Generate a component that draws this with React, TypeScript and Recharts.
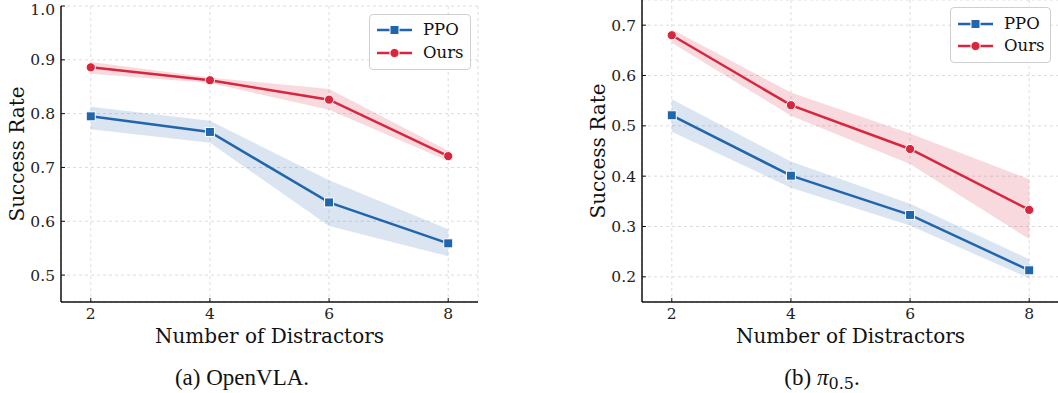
import React from 'react';
import { ComposedChart, Line, Area, XAxis, YAxis, CartesianGrid, Legend } from 'recharts';

// ---------- data ----------
const distractors = [2, 4, 6, 8];
const xTicks = [2, 4, 6, 8];

// (a) OpenVLA
const openvlaPpoMean = [0.795, 0.766, 0.635, 0.559];
const openvlaPpoLow = [0.771, 0.746, 0.591, 0.535];
const openvlaPpoHigh = [0.813, 0.787, 0.676, 0.585];
const openvlaOursMean = [0.886, 0.862, 0.826, 0.721];
const openvlaOursLow = [0.874, 0.857, 0.807, 0.712];
const openvlaOursHigh = [0.896, 0.867, 0.846, 0.731];
const openvlaYTicks = [0.5, 0.6, 0.7, 0.8, 0.9, 1.0];

// (b) pi_0.5
const pi05PpoMean = [0.521, 0.401, 0.323, 0.213];
const pi05PpoLow = [0.488, 0.377, 0.302, 0.197];
const pi05PpoHigh = [0.553, 0.429, 0.345, 0.235];
const pi05OursMean = [0.680, 0.541, 0.454, 0.333];
const pi05OursLow = [0.665, 0.520, 0.424, 0.275];
const pi05OursHigh = [0.692, 0.566, 0.485, 0.394];
const pi05YTicks = [0.2, 0.3, 0.4, 0.5, 0.6, 0.7];

const seriesNames = ['PPO', 'Ours'];
const xLabel = 'Number of Distractors';
const yLabel = 'Success Rate';

// ---------- style ----------
const BLUE = '#2166ac';
const RED = '#d7263d';
const SERIF = '"DejaVu Serif", serif';
const TIMES = '"Liberation Serif", "Times New Roman", serif';

function buildRows(pm: number[], pl: number[], ph: number[], om: number[], ol: number[], oh: number[]) {
  return distractors.map((x, i) => ({
    x,
    ppo: pm[i],
    ppoBand: [pl[i], ph[i]],
    ours: om[i],
    oursBand: [ol[i], oh[i]],
  }));
}

const openvlaRows = buildRows(openvlaPpoMean, openvlaPpoLow, openvlaPpoHigh, openvlaOursMean, openvlaOursLow, openvlaOursHigh);
const pi05Rows = buildRows(pi05PpoMean, pi05PpoLow, pi05PpoHigh, pi05OursMean, pi05OursLow, pi05OursHigh);

const SquareDot = (props: any) => {
  const { cx, cy } = props;
  if (cx == null || cy == null) return null;
  return <rect x={cx - 4.5} y={cy - 4.5} width={9} height={9} fill={BLUE} stroke="#fff" strokeWidth={1} />;
};
const CircleDot = (props: any) => {
  const { cx, cy } = props;
  if (cx == null || cy == null) return null;
  return <circle cx={cx} cy={cy} r={4.6} fill={RED} stroke="#fff" strokeWidth={1} />;
};

const XLabelEl = (props: any) => {
  const vb = props.viewBox || { x: 0, y: 0, width: 0, height: 0 };
  return (
    <text x={vb.x + vb.width / 2} y={vb.y + 41} textAnchor="middle" fontFamily={SERIF} fontSize={20} fill="#111">
      {xLabel}
    </text>
  );
};
const YLabelEl = (props: any) => {
  const vb = props.viewBox || { x: 0, y: 0, width: 0, height: 0 };
  const bx = vb.x + vb.width - 37.5;
  const cy = vb.y + vb.height / 2;
  return (
    <text x={bx} y={cy} transform={`rotate(-90, ${bx}, ${cy})`} textAnchor="middle" fontFamily={SERIF} fontSize={20} fill="#111">
      {yLabel}
    </text>
  );
};

const LegendBox = (props: any) => {
  const rowTops = props.rowTops as number[];
  const items = [
    { name: seriesNames[0], color: BLUE, square: true },
    { name: seriesNames[1], color: RED, square: false },
  ];
  return (
    <div
      style={{
        position: 'relative',
        width: props.w,
        height: props.h,
        boxSizing: 'border-box',
        border: '1px solid #cfcfcf',
        borderRadius: 4,
        background: 'rgba(255,255,255,0.85)',
      }}
    >
      {items.map((it, i) => (
        <div key={it.name} style={{ position: 'absolute', left: 0, top: rowTops[i] - 10, height: 20, width: props.w }}>
          <svg width={46} height={20} style={{ position: 'absolute', left: 0, top: 0 }}>
            <line x1={props.lx0} x2={props.lx1} y1={10} y2={10} stroke={it.color} strokeWidth={2.4} />
            {it.square ? (
              <rect x={(props.lx0 + props.lx1) / 2 - 4.5} y={5.5} width={9} height={9} fill={it.color} stroke="#fff" strokeWidth={1} />
            ) : (
              <circle cx={(props.lx0 + props.lx1) / 2} cy={10} r={4.6} fill={it.color} stroke="#fff" strokeWidth={1} />
            )}
          </svg>
          <span
            style={{
              position: 'absolute',
              left: 53,
              top: 0,
              lineHeight: '20px',
              fontFamily: SERIF,
              fontSize: 16.5,
              color: '#111',
              whiteSpace: 'nowrap',
            }}
          >
            {it.name}
          </span>
        </div>
      ))}
    </div>
  );
};

type PanelProps = {
  rows: any[];
  yDomain: [number, number];
  yTicks: number[];
  width: number;
  yAxisWidth: number;
  marginTop: number;
  marginRight: number;
  legendLeft: number;
  legendTop: number;
  legendW: number;
  legendH: number;
  rowTops: number[];
  lx0: number;
  lx1: number;
};

function Panel(p: PanelProps) {
  const height = 393;
  const xAxisHeight = 60;
  const plotBottom = 302;
  return (
    <ComposedChart
      width={p.width}
      height={height}
      data={p.rows}
      margin={{ top: p.marginTop, right: p.marginRight, bottom: height - plotBottom - xAxisHeight, left: 0 }}
    >
      <CartesianGrid stroke="#d4d4d4" strokeDasharray="3 3" strokeWidth={0.8} />
      <XAxis
        type="number"
        dataKey="x"
        domain={[1.5, 8.5]}
        ticks={xTicks}
        allowDataOverflow
        height={xAxisHeight}
        axisLine={{ stroke: '#111', strokeWidth: 1.5 }}
        tickLine={{ stroke: '#111', strokeWidth: 1 }}
        tickSize={-4}
        tickMargin={10}
        tick={{ fill: '#222', fontSize: 15.5, fontFamily: SERIF }}
        label={<XLabelEl />}
      />
      <YAxis
        type="number"
        domain={p.yDomain}
        ticks={p.yTicks}
        allowDataOverflow
        width={p.yAxisWidth}
        axisLine={{ stroke: '#111', strokeWidth: 1.5 }}
        tickLine={{ stroke: '#111', strokeWidth: 1 }}
        tickSize={-4}
        tickMargin={10}
        tickFormatter={(v: number) => v.toFixed(1)}
        tick={{ fill: '#222', fontSize: 15.5, fontFamily: SERIF }}
        label={<YLabelEl />}
      />
      <Area type="linear" dataKey="ppoBand" stroke="none" fill={BLUE} fillOpacity={0.17} isAnimationActive={false} dot={false} activeDot={false} />
      <Area type="linear" dataKey="oursBand" stroke="none" fill={RED} fillOpacity={0.17} isAnimationActive={false} dot={false} activeDot={false} />
      <Line type="linear" dataKey="ppo" name={seriesNames[0]} stroke={BLUE} strokeWidth={2.5} dot={<SquareDot />} activeDot={false} isAnimationActive={false} />
      <Line type="linear" dataKey="ours" name={seriesNames[1]} stroke={RED} strokeWidth={2.5} dot={<CircleDot />} activeDot={false} isAnimationActive={false} />
      <Legend
        layout="vertical"
        align="center"
        verticalAlign="middle"
        wrapperStyle={{ left: p.legendLeft, top: p.legendTop, width: p.legendW, height: p.legendH }}
        content={() => <LegendBox w={p.legendW} h={p.legendH} rowTops={p.rowTops} lx0={p.lx0} lx1={p.lx1} />}
      />
    </ComposedChart>
  );
}

export default function App() {
  return (
    <div style={{ position: 'absolute', left: 0, top: 0, width: 1058, height: 393, overflow: 'hidden', background: '#fff' }}>
      <svg width={1058} height={393} style={{ position: 'absolute', left: 0, top: 0 }}>
        <text x={242} y={385} textAnchor="middle" fontFamily={TIMES} fontSize={23} fill="#111">
          (a) OpenVLA.
        </text>
        <text x={822} y={385} textAnchor="middle" fontFamily={TIMES} fontSize={23} fill="#111">
          (b) <tspan fontStyle="italic">π</tspan>
          <tspan fontSize={16} dy={4} fontFamily={SERIF}>0.5</tspan>
          <tspan dy={-4}>.</tspan>
        </text>
      </svg>
      <div style={{ position: 'absolute', left: 0, top: 0 }}>
        <Panel
          rows={openvlaRows}
          yDomain={[0.45, 1.0]}
          yTicks={openvlaYTicks}
          width={500}
          yAxisWidth={61}
          marginTop={6}
          marginRight={22}
          legendLeft={369}
          legendTop={14}
          legendW={102}
          legendH={56}
          rowTops={[15, 38]}
          lx0={7}
          lx1={42}
        />
      </div>
      <div style={{ position: 'absolute', left: 560, top: 0 }}>
        <Panel
          rows={pi05Rows}
          yDomain={[0.15, 0.75]}
          yTicks={pi05YTicks}
          width={520}
          yAxisWidth={82}
          marginTop={0}
          marginRight={21}
          legendLeft={390}
          legendTop={7}
          legendW={101}
          legendH={56}
          rowTops={[16, 38]}
          lx0={7}
          lx1={42}
        />
      </div>
    </div>
  );
}
